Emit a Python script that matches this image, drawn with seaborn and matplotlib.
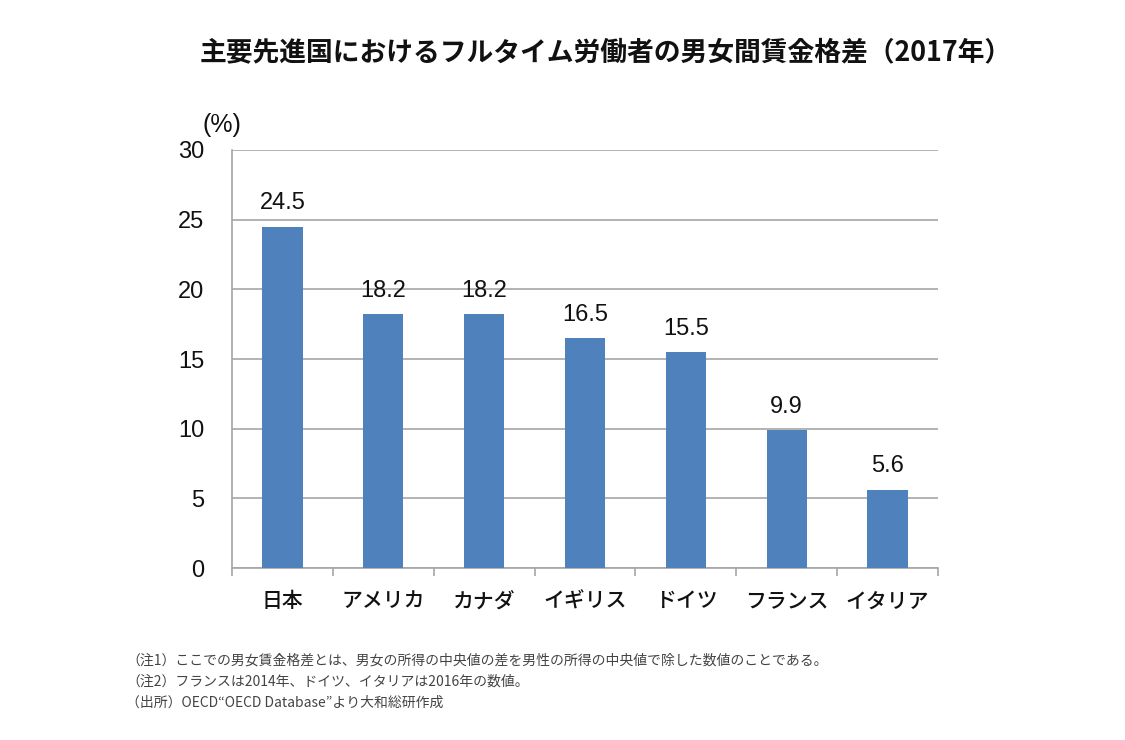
import matplotlib
matplotlib.use("Agg")
import matplotlib.pyplot as plt
import seaborn as sns
import pandas as pd

countries = ["日本", "アメリカ", "カナダ", "イギリス", "ドイツ", "フランス", "イタリア"]
gap = [24.5, 18.2, 18.2, 16.5, 15.5, 9.9, 5.6]
yticks = [0, 5, 10, 15, 20, 25, 30]

title = "主要先進国におけるフルタイム労働者の男女間賃金格差（2017年）"
notes = [
    "（注1）ここでの男女賃金格差とは、男女の所得の中央値の差を男性の所得の中央値で除した数値のことである。",
    "（注2）フランスは2014年、ドイツ、イタリアは2016年の数値。",
    "（出所）OECD“OECD Database”より大和総研作成",
]

sns.set_theme(style="white")
plt.rcParams['font.family'] = ['Noto Sans CJK JP', 'DejaVu Sans']

df = pd.DataFrame({"country": countries, "gap": gap})

fig = plt.figure(figsize=(11.25, 7.4), dpi=100)
ax = fig.add_axes([0.2062, 0.2324, 0.6276, 0.5649])

sns.barplot(data=df, x="country", y="gap", color="#4F81BD", saturation=1,
            width=0.4, linewidth=0, edgecolor="none", ax=ax, zorder=3)

ax.set_ylim(0, 30)
ax.set_xlim(-0.5, len(countries) - 0.5)
ax.set_yticks(yticks)
ax.set_yticklabels([str(t) for t in yticks], family=['Liberation Sans'], fontsize=17,
                   color="#111111")
ax.yaxis.grid(True, color="#A6A6A6", linewidth=1.2, zorder=0)
ax.set_axisbelow(True)
ax.set_xlabel("")
ax.set_ylabel("")
for s in ["top", "right"]:
    ax.spines[s].set_visible(False)
for s in ["left", "bottom"]:
    ax.spines[s].set_color("#A6A6A6")
    ax.spines[s].set_linewidth(1.2)
ax.tick_params(axis="y", length=0, pad=20)
ax.tick_params(axis="x", which="major", length=0, pad=16, labelsize=15,
               labelcolor="#111111")
for lbl in ax.get_xticklabels():
    lbl.set_fontweight("medium")

# minor ticks between categories
ax.set_xticks([i - 0.5 for i in range(len(countries) + 1)], minor=True)
ax.tick_params(axis="x", which="minor", bottom=True, length=6, color="#A6A6A6",
               width=1.2, direction="out")

for i, v in enumerate(gap):
    ax.text(i, v + 0.9, f"{v:.1f}", ha="center", va="bottom", fontsize=17,
            family=['Liberation Sans'], color="#111111")

ax.text(-0.014, 1.03, "(%)", transform=ax.transAxes, ha="center", va="bottom",
        fontsize=18, family=['Liberation Sans'], color="#111111")

fig.text(0.538, 0.930, title, ha="center", va="center", fontsize=19.3,
         fontweight="bold", color="#111111")

for k, line in enumerate(notes):
    fig.text(0.112, 0.108 - k * 0.029, line, ha="left", va="center",
             fontsize=10, color="#444444")

fig.savefig("out.png", dpi=100, facecolor="white")
